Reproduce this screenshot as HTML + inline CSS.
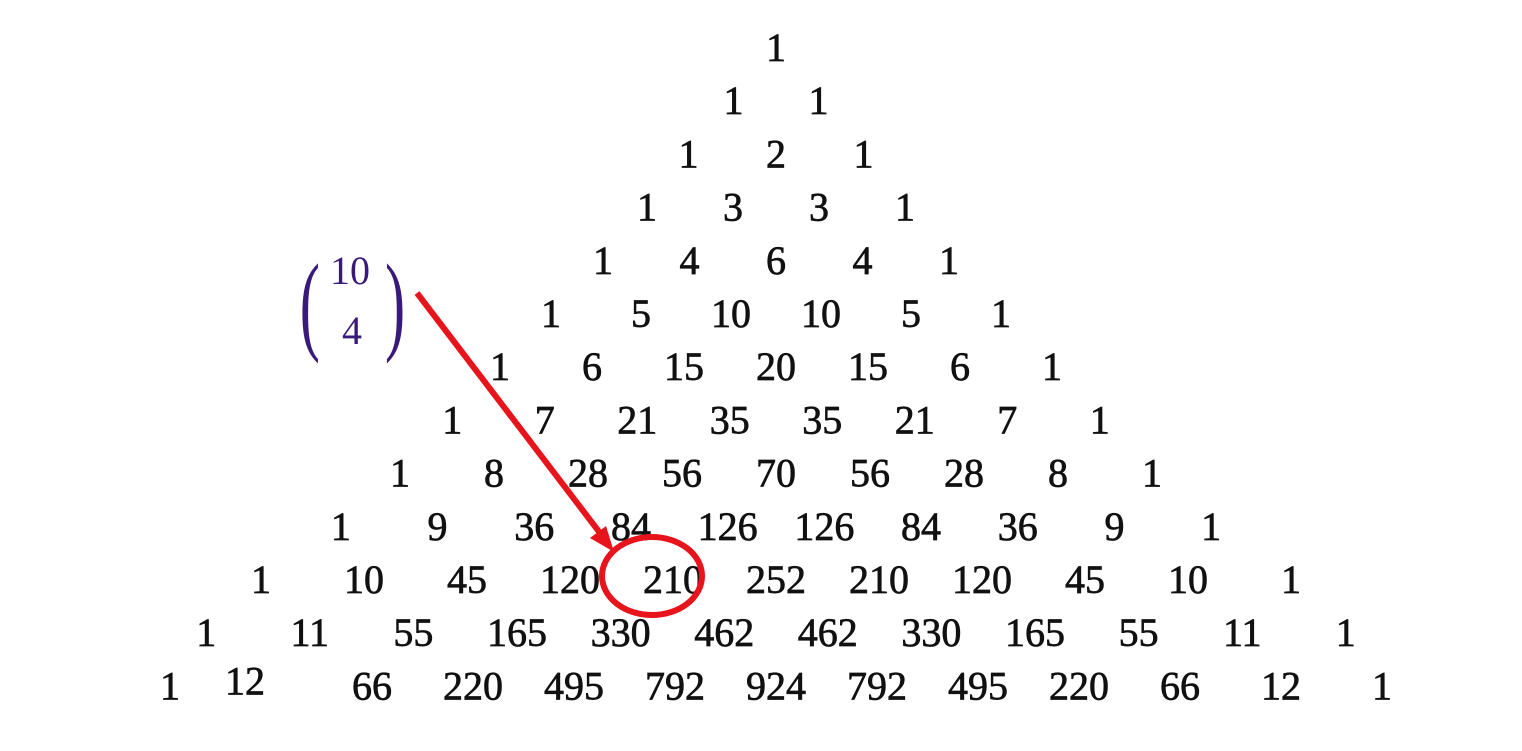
<!DOCTYPE html>
<html><head><meta charset="utf-8"><style>
html,body{margin:0;padding:0;background:#fff;width:1522px;height:751px;overflow:hidden}
svg{display:block}
.n{font-family:"Liberation Serif",serif;font-size:40px;fill:#111;stroke:#111;stroke-width:0.7}
</style></head><body>
<svg id="s" width="1522" height="751">
<g id="tri"></g>
<g fill="#3a1a78" font-family="Liberation Serif,serif">
<text x="300" y="340" font-size="110" transform="scale(0.55,1) translate(245,0)">(</text>
<text x="330" y="284" font-size="40">10</text>
<text x="342" y="344" font-size="40">4</text>
<text x="700" y="340" font-size="110" transform="scale(0.55,1)">)</text>
</g>
<g>
<line x1="417" y1="293" x2="600" y2="533" stroke="#e8141c" stroke-width="6"/>
<polygon points="614,552 590,538 606,526" fill="#e8141c"/>
</g>
<ellipse cx="652" cy="576" rx="50" ry="39" fill="none" stroke="#e8141c" stroke-width="6"/>
</svg>
<script>
const rows = [
[1],[1,1],[1,2,1],[1,3,3,1],[1,4,6,4,1],[1,5,10,10,5,1],[1,6,15,20,15,6,1],
[1,7,21,35,35,21,7,1],[1,8,28,56,70,56,28,8,1],[1,9,36,84,126,126,84,36,9,1],
[1,10,45,120,210,252,210,120,45,10,1],[1,11,55,165,330,462,462,330,165,55,11,1],
[1,12,66,220,495,792,924,792,495,220,66,12,1]
];
const spacing=[85,85,87.5,86,86.5,90,92,92.5,94,96.7,103,103.6,101];
const g=document.getElementById('tri');
rows.forEach((r,n)=>{
  const sp=spacing[n], y=47+n*53.2+14;
  r.forEach((v,k)=>{
    const t=document.createElementNS('http://www.w3.org/2000/svg','text');
    t.setAttribute('class','n');
    let x=776+(k-n/2)*sp, yy=y;
    if(n===12&&k===1){x=245;yy=y-5;}
    t.setAttribute('x',x);
    t.setAttribute('y',yy);
    t.setAttribute('text-anchor','middle');
    t.textContent=v;
    
    
    g.appendChild(t);
  });
});
</script>
</body></html>
